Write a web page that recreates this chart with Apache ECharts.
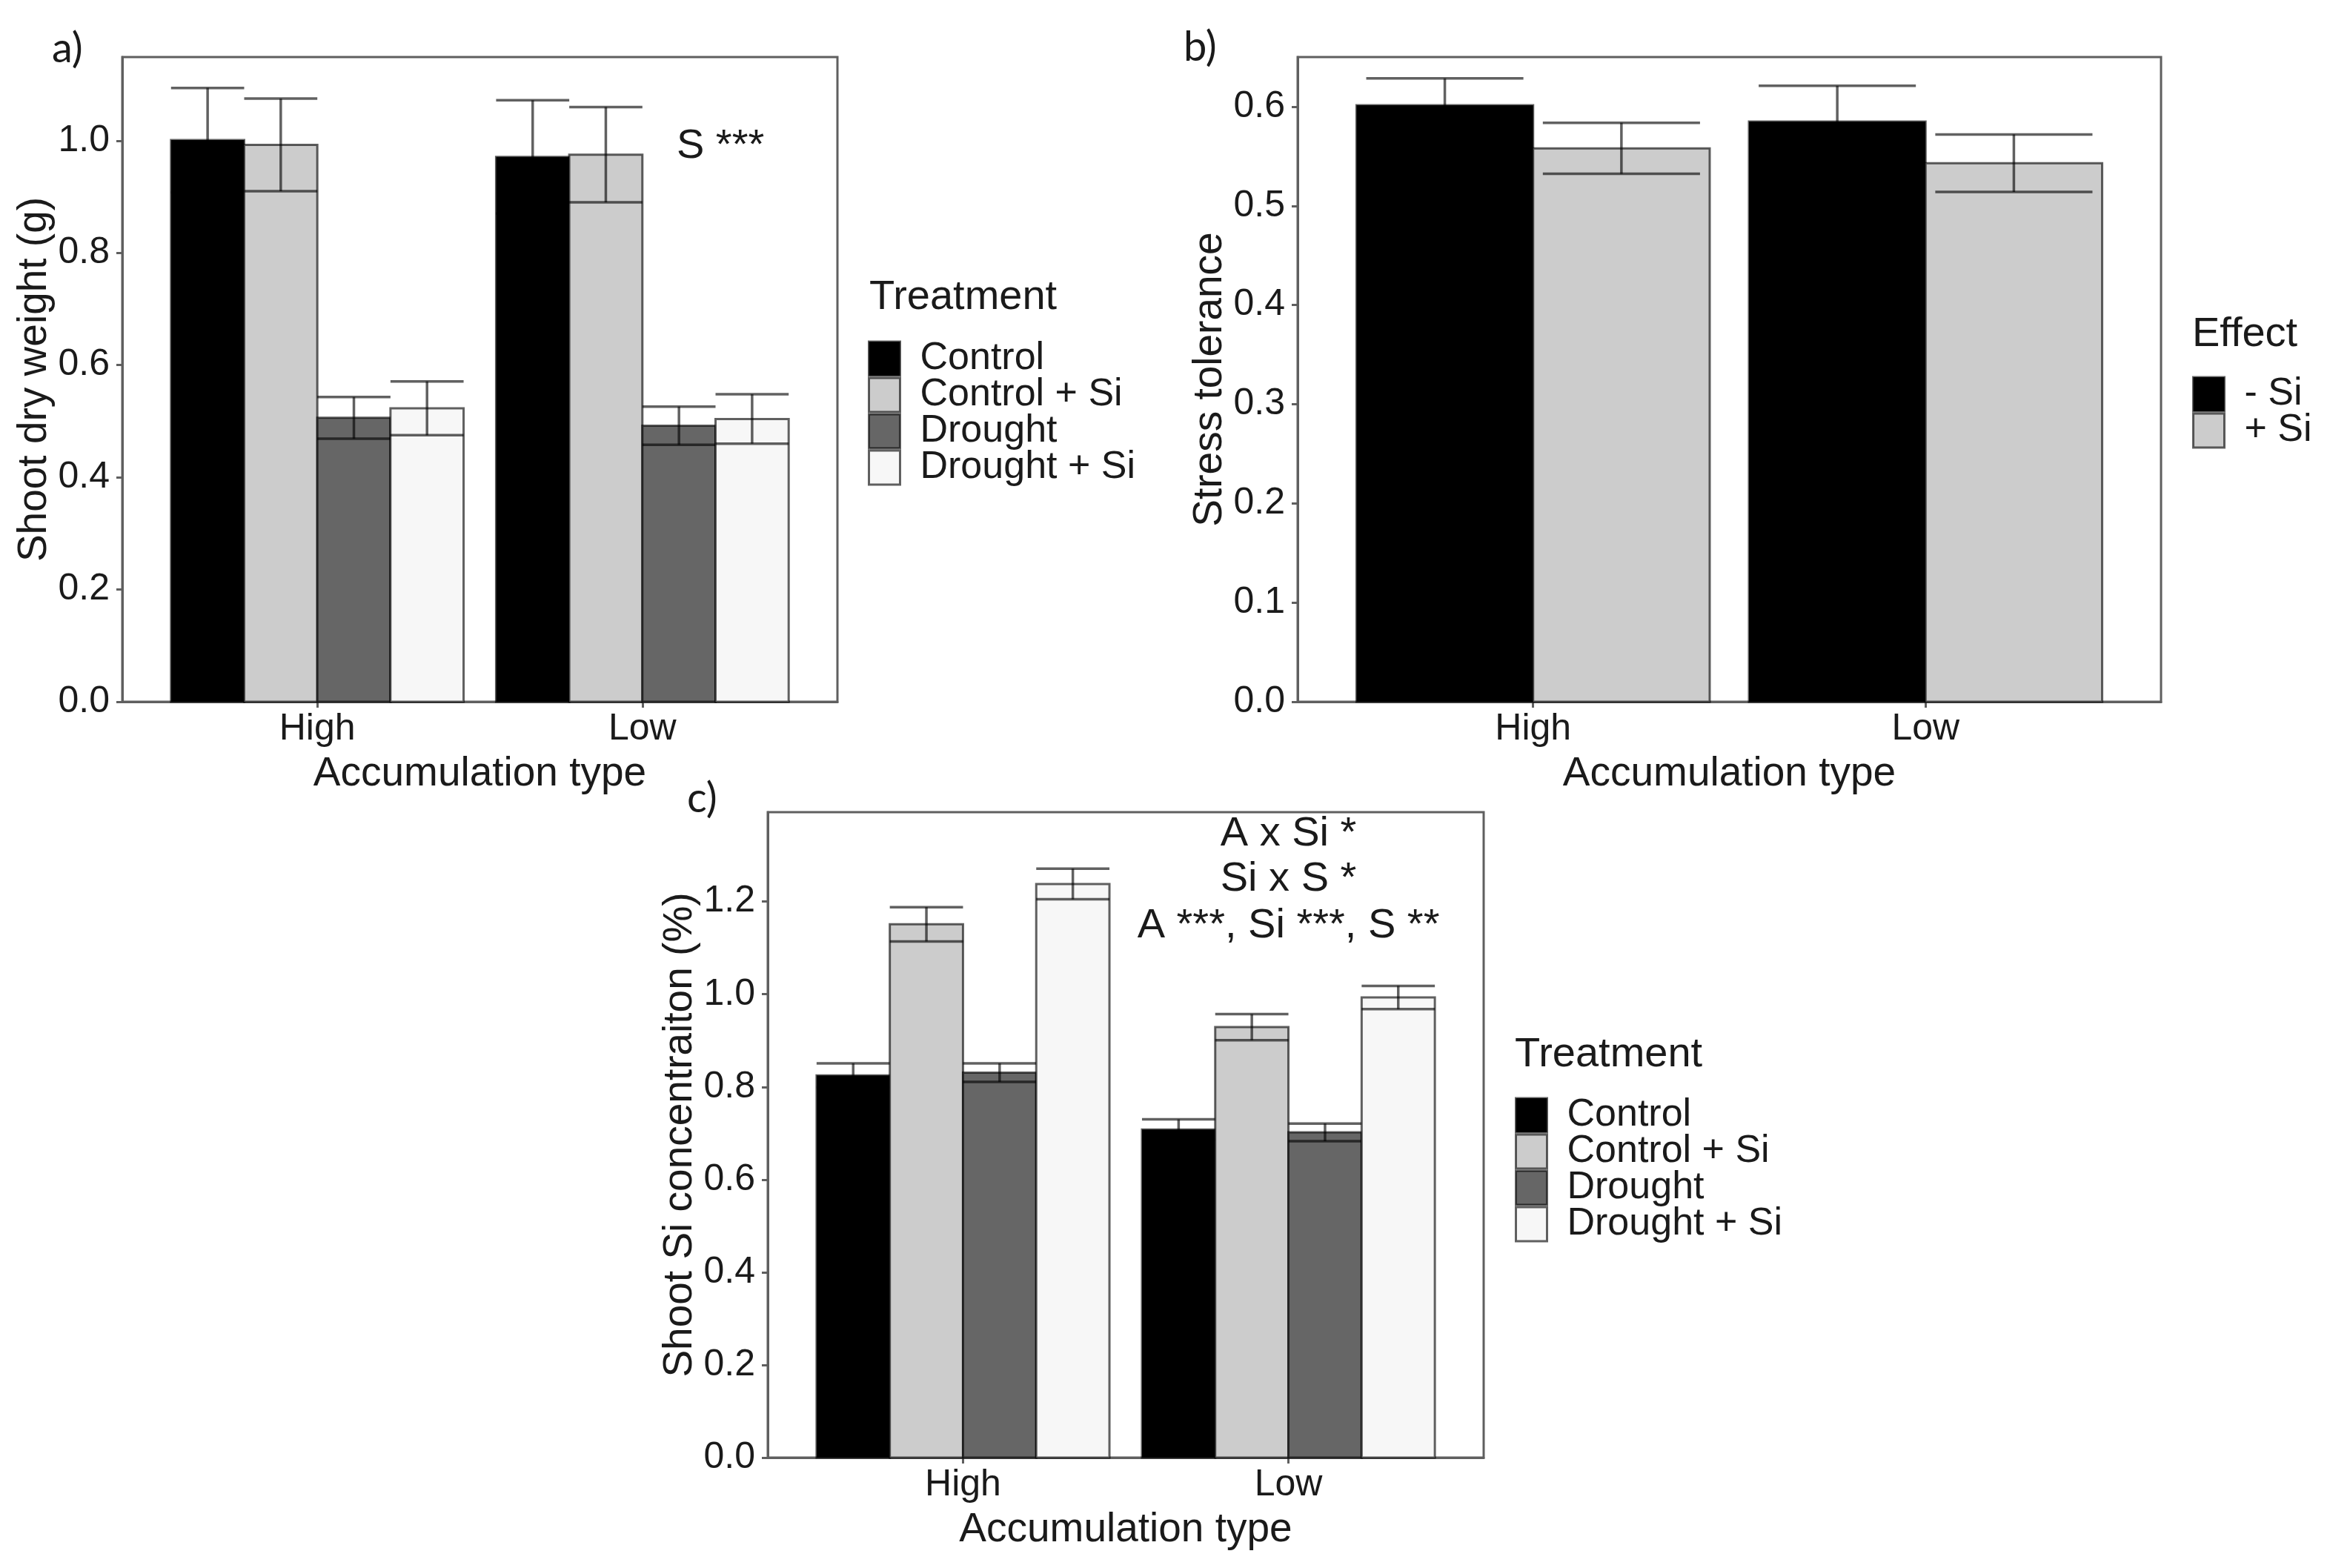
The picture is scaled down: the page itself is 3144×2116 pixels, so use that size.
<!DOCTYPE html>
<html><head><meta charset="utf-8">
<script src="https://cdn.jsdelivr.net/npm/echarts@6/dist/echarts.min.js"></script>
<style>html,body{margin:0;padding:0;background:#fff}#chart{width:3144px;height:2116px}</style>
</head><body><div id="chart"></div>
<script>
// ---------- data ----------
const categories = ['High', 'Low'];
const treatments = ['Control', 'Control + Si', 'Drought', 'Drought + Si'];
const effects = ['- Si', '+ Si'];
const treatmentColors = ['#000000', '#cccccc', '#666666', '#f7f7f7'];
const effectColors = ['#000000', '#cccccc'];

// a) Shoot dry weight (g): one row per treatment, values for [High, Low]
const dryWeightMean = [[1.001, 0.971], [0.9925, 0.975], [0.506, 0.492], [0.523, 0.504]];
const dryWeightSE   = [[0.093, 0.101], [0.0825, 0.085], [0.037, 0.034], [0.048, 0.044]];
// b) Stress tolerance: one row per effect
const toleranceMean = [[0.6015, 0.585], [0.558, 0.543]];
const toleranceSE   = [[0.027, 0.036], [0.0257, 0.029]];
// c) Shoot Si concentration (%)
const siConcMean = [[0.825, 0.708], [1.151, 0.929], [0.831, 0.702], [1.238, 0.993]];
const siConcSE   = [[0.026, 0.022], [0.037, 0.028], [0.020, 0.019], [0.033, 0.025]];

const dryWeightTicks = [0, 0.2, 0.4, 0.6, 0.8, 1.0];
const toleranceTicks = [0, 0.1, 0.2, 0.3, 0.4, 0.5, 0.6];
const siConcTicks = [0, 0.2, 0.4, 0.6, 0.8, 1.0, 1.2];
const categoryPositions = [1, 2];

const annotationsA = ['S ***'];
const annotationsAPos = [[2.24, 0.99]];
const annotationsC = ['A x Si *', 'Si x S *', 'A ***, Si ***, S **'];
const annotationsCPos = [[2, 1.345], [2, 1.248], [2, 1.147]];

// ---------- styles ----------
const FONT = '"Liberation Sans", Arial, sans-serif';
const TXT = '#1a1a1a';
const FRAME = '#5f5f5f';
const EDGE = 'rgba(0,0,0,0.62)';
const ERR = 'rgba(0,0,0,0.62)';

const chart = echarts.init(document.getElementById('chart'), null, {renderer: 'canvas'});

function barSeries(name, means, ses, k, n, axisIdx, color, capRatio) {
  return {
    type: 'custom', name: name, xAxisIndex: axisIdx, yAxisIndex: axisIdx,
    itemStyle: {color: color, borderColor: EDGE, borderWidth: 3},
    data: categories.map((c, i) => [categoryPositions[i], means[i], ses[i]]),
    renderItem: function (params, api) {
      const x = api.value(0), v = api.value(1), se = api.value(2);
      const unit = api.size([1, 0])[0];
      const bw = unit * 0.9 / n;
      const base = api.coord([x, 0]);
      const cx = base[0] + (k - (n - 1) / 2) * bw;
      const top = api.coord([x, v])[1];
      const hi = api.coord([x, v + se])[1];
      const lo = api.coord([x, v - se])[1];
      const half = bw * capRatio / 2;
      const es = {stroke: ERR, lineWidth: 3.5};
      return {type: 'group', children: [
        {type: 'rect', shape: {x: cx - bw / 2, y: top, width: bw, height: base[1] - top},
         style: {fill: color, stroke: EDGE, lineWidth: 3}},
        {type: 'line', shape: {x1: cx, y1: hi, x2: cx, y2: lo}, style: es},
        {type: 'line', shape: {x1: cx - half, y1: hi, x2: cx + half, y2: hi}, style: es},
        {type: 'line', shape: {x1: cx - half, y1: lo, x2: cx + half, y2: lo}, style: es}
      ]};
    }
  };
}

function textSeries(texts, positions, axisIdx) {
  return {
    type: 'custom', name: 'annot' + axisIdx, xAxisIndex: axisIdx, yAxisIndex: axisIdx, silent: true,
    data: positions,
    renderItem: function (params, api) {
      const p = api.coord([api.value(0), api.value(1)]);
      return {type: 'text', x: p[0], y: p[1],
        style: {text: texts[params.dataIndex], fill: TXT, font: '56px ' + FONT,
                align: 'center', verticalAlign: 'middle'}};
    }
  };
}

function xAxis(gridIndex) {
  return {
    type: 'value', gridIndex: gridIndex, min: 0.4, max: 2.6,
    name: 'Accumulation type', nameLocation: 'middle', nameGap: 70,
    nameTextStyle: {fontFamily: FONT, fontSize: 55, color: TXT},
    splitLine: {show: false},
    axisLine: {show: true, lineStyle: {color: FRAME, width: 3}},
    axisTick: {show: true, customValues: categoryPositions, length: 8, lineStyle: {color: FRAME, width: 3}},
    axisLabel: {customValues: categoryPositions, formatter: v => categories[Math.round(v) - 1],
                fontFamily: FONT, fontSize: 50, color: TXT, margin: 12}
  };
}

function yAxis(gridIndex, max, ticks, name) {
  return {
    type: 'value', gridIndex: gridIndex, min: 0, max: max,
    name: name, nameLocation: 'middle', nameGap: 78, nameRotate: 90,
    nameTextStyle: {fontFamily: FONT, fontSize: 55, color: TXT},
    splitLine: {show: false},
    axisLine: {show: true, lineStyle: {color: FRAME, width: 3}},
    axisTick: {show: true, customValues: ticks, length: 8, lineStyle: {color: FRAME, width: 3}},
    axisLabel: {customValues: ticks, formatter: v => v.toFixed(1),
                fontFamily: FONT, fontSize: 50, color: TXT, margin: 17}
  };
}

function gridBox(left, top, width, height) {
  return {left: left, top: top, width: width, height: height, show: true,
          borderColor: FRAME, borderWidth: 3, backgroundColor: 'transparent',
          containLabel: false, outerBoundsMode: 'none'};
}

function legend(names, colors, left, top) {
  return {
    orient: 'vertical', left: left, top: top, padding: 0,
    itemWidth: 42, itemHeight: 46, itemGap: -3, icon: 'rect', selectedMode: false,
    textStyle: {fontFamily: FONT, fontSize: 52, color: TXT, padding: [0, 0, 0, 22]},
    data: names.map((n, i) => ({name: n, itemStyle: {color: colors[i], borderColor: EDGE, borderWidth: 3}}))
  };
}

function label(text, left, top, size, family) {
  return {text: text, left: left, top: top, padding: 0,
          textStyle: {fontFamily: family || FONT, fontSize: size, fontWeight: 'normal', color: TXT}};
}

const series = [];
treatments.forEach((t, k) => series.push(barSeries(t, dryWeightMean[k], dryWeightSE[k], k, 4, 0, treatmentColors[k], 1.0)));
effects.forEach((t, k) => series.push(barSeries(t, toleranceMean[k], toleranceSE[k], k, 2, 1, effectColors[k], 0.89)));
treatments.forEach((t, k) => series.push(barSeries(t, siConcMean[k], siConcSE[k], k, 4, 2, treatmentColors[k], 1.0)));
series.push(textSeries(annotationsA, annotationsAPos, 0));
series.push(textSeries(annotationsC, annotationsCPos, 2));

chart.setOption({
  animation: false,
  backgroundColor: '#ffffff',
  title: [
    label('a)', 70, 38, 56, 'Lato, "Open Sans", sans-serif'),
    label('b)', 1597, 36, 56, 'Lato, "Open Sans", sans-serif'),
    label('c)', 927, 1050, 56, 'Lato, "Open Sans", sans-serif'),
    label('Treatment', 1173, 374, 56),
    label('Effect', 2958, 424, 56),
    label('Treatment', 2044, 1396, 56)
  ],
  legend: [
    legend(treatments, treatmentColors, 1171, 458),
    legend(effects, effectColors, 2958, 506),
    legend(treatments, treatmentColors, 2044, 1479)
  ],
  grid: [
    gridBox(165, 77, 965, 870),
    gridBox(1751, 77, 1165, 870),
    gridBox(1036, 1096, 966, 871)
  ],
  xAxis: [xAxis(0), xAxis(1), xAxis(2)],
  yAxis: [
    yAxis(0, 1.149, dryWeightTicks, 'Shoot dry weight (g)'),
    yAxis(1, 0.650, toleranceTicks, 'Stress tolerance'),
    yAxis(2, 1.393, siConcTicks, 'Shoot Si concentraiton (%)')
  ],
  series: series
});
</script></body></html>
